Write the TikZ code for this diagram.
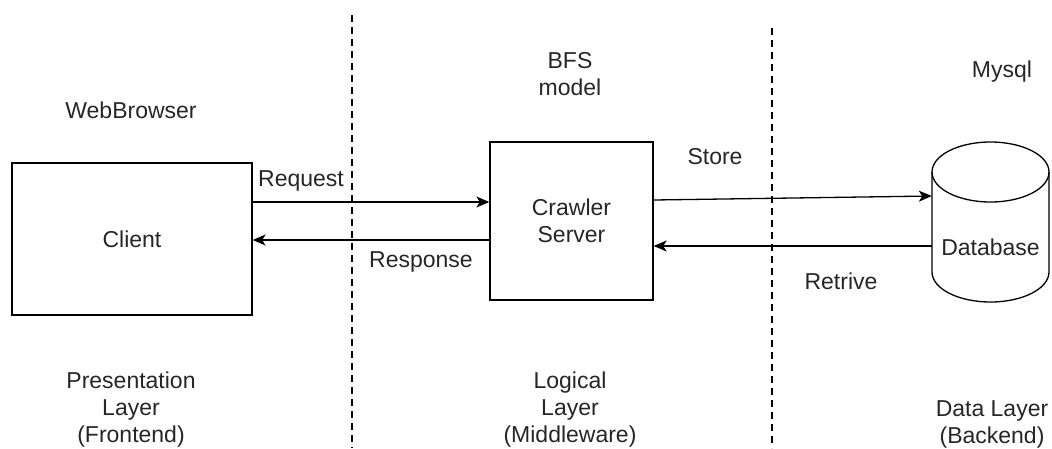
\documentclass[tikz,border=0pt]{standalone}
\usepackage{fontspec}
\setmainfont{Liberation Sans}
\usetikzlibrary{arrows.meta}
\definecolor{txt}{HTML}{262626}

\tikzset{
  lbl/.style={text=txt, font=\fontsize{23}{27}\selectfont, align=center, inner sep=0pt},
  box/.style={draw, line width=1.3pt, minimum width=#1, inner sep=0pt},
  flow/.style={line width=1.3pt, -{Stealth[length=13pt,width=11pt,inset=3.5pt]}},
  sep/.style={line width=1.2pt, dash pattern=on 7pt off 5pt}
}

\begin{document}
\begin{tikzpicture}[x=1pt,y=-1pt]
\useasboundingbox (0,0) rectangle (1052,448);

% layer separators
\draw[sep] (352,15) -- (352,448);
\draw[sep] (772,28) -- (772,448);

% boxes
\node[box=240pt, minimum height=152pt, lbl] (client) at (132,239) {Client};
\node[box=163pt, minimum height=158pt, lbl] (crawler) at (571.5,221) {Crawler\\Server};

% database cylinder
\draw[line width=1.3pt, fill=white] (932,172) -- (932,272) arc (180:0:58.5 and 30) -- (1049,172);
\draw[line width=1.3pt] (990.5,172) ellipse (58.5 and 30);
\node[minimum width=117pt, minimum height=160pt, inner sep=0pt] (db) at (990.5,222) {};
\node[lbl] (dbtext) at (990.5,247) {Database};

% connectors
\draw[flow] (client.east |- 0,202) -- (crawler.west |- 0,202);
\draw[flow] (crawler.west |- 0,240) -- (client.east |- 0,240);
\draw[flow] (crawler.east |- 0,200) -- (db.west |- 0,196);
\draw[flow] (db.west |- 0,246) -- (crawler.east |- 0,246);

% connector labels
\node[lbl] (req) at (301,181) {Request};
\node[lbl] (resp) at (421,262) {Response};
\node[lbl] (store) at (715,157) {Store};
\node[lbl] (ret) at (841,281) {Retrive};

% headings
\node[lbl] (web) at (131,110) {WebBrowser};
\node[lbl] (bfs) at (570,74) {BFS\\model};
\node[lbl] (mysql) at (1002,72) {Mysql};

% layer names
\node[lbl] (pres) at (131,410) {Presentation\\Layer\\(Frontend)};
\node[lbl] (logic) at (570,410) {Logical\\Layer\\(Middleware)};
\node[lbl] (data) at (992,424) {Data Layer\\(Backend)};
\end{tikzpicture}
\end{document}
